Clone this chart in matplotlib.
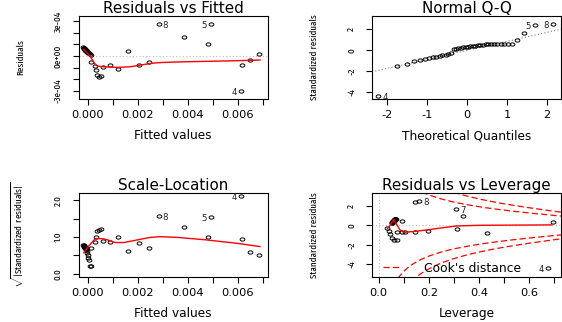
import numpy as np
import matplotlib
matplotlib.use("Agg")
import matplotlib.pyplot as plt
from matplotlib import font_manager
from matplotlib.font_manager import FontProperties
from matplotlib.textpath import TextPath
from matplotlib.path import Path
from matplotlib.transforms import Affine2D
from matplotlib.lines import Line2D

# ---------------- data ----------------
# Residuals vs Fitted (residuals in units of 1e-4)
fitted = [-0.00017, -0.00016, -0.00015, -0.00014, -0.00013, -0.00012, -0.00011, -0.00010,
          -0.00009, -0.00008, -0.00007, -0.00006, -0.00005, -0.00004, -0.00002, 0.00000,
          0.00002, 0.00005, 0.00008, 0.00012,
          0.00015, 0.00028, 0.00032, 0.00039, 0.00045, 0.00052, 0.00061, 0.00088, 0.00122,
          0.00162, 0.00207, 0.00244, 0.00284, 0.00384, 0.00483, 0.00493, 0.00614, 0.00619,
          0.00649, 0.00687]
residuals_e4 = [0.75, 0.72, 0.68, 0.66, 0.62, 0.60, 0.57, 0.55, 0.52, 0.50, 0.47, 0.44, 0.42,
                0.40, 0.36, 0.32, 0.28, 0.22, 0.16, 0.10,
                -0.54, -0.86, -1.20, -1.63, -1.77, -1.71, -0.91, -0.80, -1.14, 0.46, -0.74,
                -0.54, 2.72, 1.65, 1.00, 2.72, -3.00, -0.75, -0.34, 0.17]
rvf_smooth_x = [-0.00015, 0.00012, 0.00028, 0.00039, 0.00065, 0.00118, 0.00171, 0.00211,
                0.00264, 0.00300, 0.00371, 0.00463, 0.00596, 0.00689]
rvf_smooth_e4 = [0.57, -0.06, -0.63, -0.86, -0.92, -0.97, -0.92, -0.77, -0.60, -0.55, -0.50,
                 -0.46, -0.40, -0.34]
rvf_id_idx = [32, 35, 36]
rvf_id_txt = ["8", "5", "4"]

# Normal Q-Q
qq_theor = [-2.23, -1.77, -1.51, -1.33, -1.19, -1.06, -0.95, -0.86, -0.77, -0.69, -0.62,
            -0.54, -0.47, -0.40, -0.34, -0.28, -0.22, -0.16, -0.10, -0.04, 0.02, 0.08, 0.14,
            0.20, 0.26, 0.33, 0.39, 0.46, 0.53, 0.60, 0.67, 0.75, 0.84, 0.92, 1.02, 1.13,
            1.25, 1.43, 1.70, 2.15]
qq_std = [-4.39, -1.48, -1.36, -1.01, -0.94, -0.81, -0.72, -0.68, -0.62, -0.55, -0.50, -0.45,
          -0.38, -0.25, 0.09, 0.15, 0.20, 0.25, 0.28, 0.31, 0.34, 0.37, 0.40, 0.44, 0.47,
          0.50, 0.53, 0.55, 0.56, 0.57, 0.57, 0.58, 0.58, 0.58, 0.59, 0.60, 1.02, 1.69,
          2.46, 2.50]
qq_line_x = [-2.37, 2.35]
qq_line_y = [-2.06, 2.02]
qq_id_idx = [0, 38, 39]
qq_id_txt = ["4", "5", "8"]

# Scale-Location (x = fitted values above)
sl_sqrt_std = [0.78, 0.77, 0.76, 0.75, 0.74, 0.73, 0.72, 0.71, 0.70, 0.69, 0.67, 0.66, 0.64,
               0.61, 0.57, 0.52, 0.42, 0.37, 0.21, 0.21,
               0.69, 0.87, 1.01, 1.17, 1.19, 1.22, 0.89, 0.86, 1.01, 0.63, 0.83, 0.71, 1.57,
               1.28, 0.99, 1.55, 2.12, 0.94, 0.60, 0.50]
sl_smooth_x = [-0.00015, 0.00004, 0.00032, 0.00065, 0.00090, 0.00110, 0.00145, 0.00198,
               0.00250, 0.00290, 0.00357, 0.00463, 0.00596, 0.00689]
sl_smooth_y = [0.57, 0.75, 0.96, 0.95, 0.90, 0.85, 0.85, 0.92, 0.99, 1.01, 0.99, 0.93, 0.83,
               0.74]
sl_id_idx = [32, 35, 36]
sl_id_txt = ["8", "5", "4"]

# Residuals vs Leverage
leverage = [0.052, 0.053, 0.054, 0.055, 0.056, 0.057, 0.058, 0.059, 0.060, 0.060, 0.061,
            0.062, 0.062, 0.063, 0.064, 0.065, 0.065, 0.066, 0.067, 0.068,
            0.146, 0.160, 0.309, 0.336, 0.693, 0.094, 0.033, 0.040, 0.047, 0.053, 0.062,
            0.073, 0.073, 0.093, 0.106, 0.146, 0.195, 0.314, 0.433, 0.676]
lev_std = [0.28, 0.30, 0.33, 0.35, 0.38, 0.40, 0.42, 0.45, 0.47, 0.50, 0.52, 0.55, 0.57,
           0.59, 0.61, 0.63, 0.65, 0.67, 0.69, 0.72,
           2.42, 2.50, 1.70, 1.01, 0.31, 0.43, -0.30, -0.54, -0.88, -1.25, -1.46, -1.52,
           -0.62, -0.70, -0.72, -0.62, -0.54, -0.32, -0.82, -4.37]
lev_smooth_x = [0.036, 0.048, 0.060, 0.070, 0.085, 0.102, 0.140, 0.195, 0.250, 0.310, 0.400,
                0.550, 0.690]
lev_smooth_y = [-0.30, 0.10, 0.62, 0.20, -0.45, -0.70, -0.62, -0.45, -0.25, -0.05, 0.02,
                0.04, 0.06]
lev_id_idx = [21, 22, 39]
lev_id_txt = ["8", "7", "4"]
cook_levels = [0.5, 1.0]
n_coef = 5

# ---------------- fonts ----------------
names = {f.name for f in font_manager.fontManager.ttflist}
HFAM = "DejaVu Sans"
VFAM = "Liberation Sans"
for cand in ["Liberation Sans Narrow", "Arial Narrow", "Fira Sans Extra Condensed",
             "Barlow Condensed", "Roboto Condensed", "Archivo Narrow"]:
    if cand in names:
        VFAM = cand
        break


def fit_size(text, family, target_px):
    """font size (pt) at which the ink width of `text` is target_px pixels"""
    w = TextPath((0, 0), text, size=10, prop=FontProperties(family=family)).get_extents().width
    return 10 * target_px / (w * 100 / 72)


TITLE_FS = fit_size("Residuals vs Fitted", HFAM, 138)
XLAB_FS = fit_size("Fitted values", HFAM, 76)
XTICK_FS = fit_size("0.000", HFAM, 31)
LEG_FS = fit_size("Cook's distance", HFAM, 96)
ID_FS = fit_size("8", HFAM, 4.3)
VLAB_FS = fit_size("Standardized residuals", VFAM, 84)
VTICK_FS = fit_size("3e-04", VFAM, 21)

plt.rcParams["font.family"] = HFAM
plt.rcParams["axes.unicode_minus"] = False
plt.rcParams["mathtext.fontset"] = "custom"
plt.rcParams["mathtext.rm"] = VFAM

RED = "#FF0000"
GREY = "#BEBEBE"
ELL = Path.unit_circle().transformed(Affine2D().scale(1.45, 1.0))

W, H = 562, 322
fig = plt.figure(figsize=(W / 100, H / 100), dpi=100)


def make_ax(x0, x1, y0, y1):
    return fig.add_axes([x0 / W, 1 - y1 / H, (x1 - x0) / W, (y1 - y0) / H])


ax1 = make_ax(78.5, 268, 16, 99)
ax2 = make_ax(372, 561, 16, 99)
ax3 = make_ax(78.5, 268, 193, 276.5)
ax4 = make_ax(372, 561, 193, 276.5)


def style(ax, title, xlabel, ylabel, xt, xtl, yt, ytl, xlim, ylim, ylab_x=-0.305):
    ax.set_xlim(*xlim)
    ax.set_ylim(*ylim)
    ax.set_xticks(xt)
    ax.set_xticklabels(xtl)
    ax.set_yticks(yt)
    ax.set_yticklabels(ytl)
    ax.set_title(title, fontsize=TITLE_FS, pad=1.8)
    for s in ax.spines.values():
        s.set_linewidth(0.8)
    ax.tick_params(direction="out", length=4, width=0.8, colors="black")
    ax.tick_params(axis="x", labelsize=XTICK_FS, pad=4.0)
    ax.tick_params(axis="y", labelsize=VTICK_FS, pad=7.5, labelrotation=90)
    for lab in ax.get_yticklabels():
        lab.set_family(VFAM)
        lab.set_va("center")
    ax.set_xlabel(xlabel, fontsize=XLAB_FS)
    ax.xaxis.set_label_coords(0.5, -0.44)
    ax.xaxis.label.set_va("center")
    ax.set_ylabel(ylabel, fontsize=VLAB_FS, family=VFAM)
    ax.yaxis.set_label_coords(ylab_x, 0.5)
    ax.yaxis.label.set_va("center")


def points(ax, x, y):
    ax.plot(x, y, linestyle="none", marker=ELL, ms=3.4, mfc="none", mec="black", mew=0.7,
            zorder=3)


def ids(ax, x, y, idx, txt):
    mid = np.mean(ax.get_xlim())
    for i, t in zip(idx, txt):
        right = x[i] < mid
        ax.annotate(t, (x[i], y[i]), xytext=(3.0 if right else -3.0, -1.2),
                    textcoords="offset points", ha="left" if right else "right",
                    va="center", fontsize=ID_FS, color="#222222")


# ---- Residuals vs Fitted ----
res = np.array(residuals_e4) * 1e-4
xt1 = [0, 0.001, 0.002, 0.003, 0.004, 0.005, 0.006, 0.007]
xtl1 = ["0.000", "", "0.002", "", "0.004", "", "0.006", ""]
style(ax1, "Residuals vs Fitted", "Fitted values", "Residuals",
      xt1, xtl1,
      [-3e-4, -2e-4, -1e-4, 0, 1e-4, 2e-4, 3e-4],
      ["-3e-04", "", "", "0e+00", "", "", "3e-04"],
      (-0.00036, 0.00721), (-3.68e-4, 3.43e-4))
ax1.axhline(0, color=GREY, lw=0.8, ls=(0, (1, 2)), zorder=1)
points(ax1, fitted, res)
ax1.plot(rvf_smooth_x, np.array(rvf_smooth_e4) * 1e-4, color=RED, lw=1.0, zorder=4)
ids(ax1, fitted, res, rvf_id_idx, rvf_id_txt)

# ---- Normal Q-Q ----
style(ax2, "Normal Q-Q", "Theoretical Quantiles", "Standardized residuals",
      [-2, -1, 0, 1, 2], ["-2", "-1", "0", "1", "2"],
      [-4, -2, 0, 2], ["-4", "-2", "0", "2"],
      (-2.385, 2.35), (-4.69, 3.29))
ax2.axline((qq_line_x[0], qq_line_y[0]), (qq_line_x[1], qq_line_y[1]),
           color="#808080", lw=0.8, ls=(0, (1, 2)), zorder=1)
points(ax2, qq_theor, qq_std)
ids(ax2, qq_theor, qq_std, qq_id_idx, qq_id_txt)

# ---- Scale-Location ----
style(ax3, "Scale-Location", "Fitted values",
      r"$\sqrt{|\mathrm{Standardized\ residuals}|}$",
      xt1, xtl1,
      [0, 0.5, 1.0, 1.5, 2.0], ["0.0", "", "1.0", "", "2.0"],
      (-0.00036, 0.00721), (-0.076, 2.2), ylab_x=-0.32)
points(ax3, fitted, sl_sqrt_std)
ax3.plot(sl_smooth_x, sl_smooth_y, color=RED, lw=1.0, zorder=4)
ids(ax3, fitted, sl_sqrt_std, sl_id_idx, sl_id_txt)

# ---- Residuals vs Leverage ----
style(ax4, "Residuals vs Leverage", "Leverage", "Standardized residuals",
      [0, 0.1, 0.2, 0.3, 0.4, 0.5, 0.6, 0.7], ["0.0", "", "0.2", "", "0.4", "", "0.6", ""],
      [-4, -2, 0, 2], ["-4", "-2", "0", "2"],
      (-0.026, 0.726), (-5.26, 3.35))
ax4.axhline(0, color=GREY, lw=0.8, ls=(0, (1, 2)), zorder=1)
ax4.axvline(0, color=GREY, lw=0.8, ls=(0, (1, 2)), zorder=1)
hh = np.linspace(0.005, ax4.get_xlim()[1], 300)
for lev in cook_levels:
    yy = np.sqrt(lev * n_coef * (1 - hh) / hh)
    ax4.plot(hh, yy, color=RED, lw=0.9, dashes=(5, 2.5), zorder=2)
    ax4.plot(hh, -yy, color=RED, lw=0.9, dashes=(5, 2.5), zorder=2)
points(ax4, leverage, lev_std)
ax4.plot(lev_smooth_x, lev_smooth_y, color=RED, lw=1.0, zorder=4)
ids(ax4, leverage, lev_std, lev_id_idx, lev_id_txt)
ax4.legend(handles=[Line2D([], [], color=RED, lw=0.9, dashes=(5, 2.5))],
           labels=["Cook's distance"], loc="lower left", bbox_to_anchor=(0.058, 0.02),
           frameon=False, fontsize=LEG_FS, handlelength=1.55, handletextpad=1.8,
           borderpad=0, borderaxespad=0)

fig.savefig("out.png", dpi=100)
